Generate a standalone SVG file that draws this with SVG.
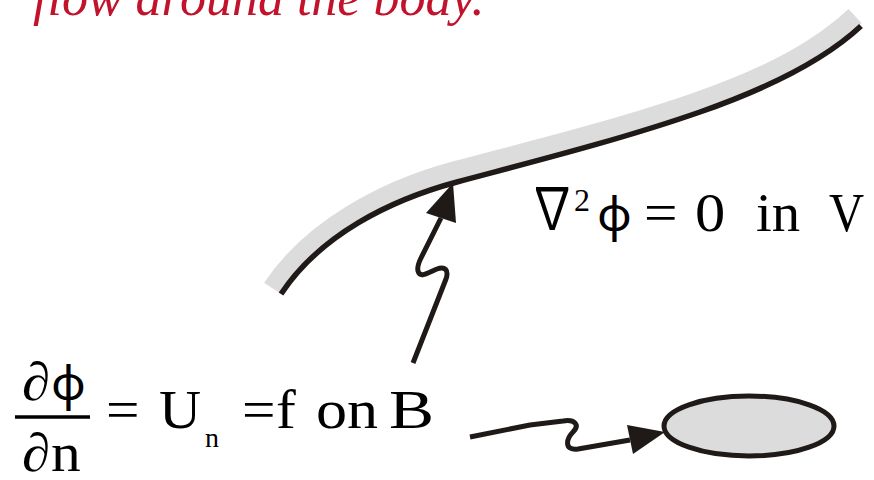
<svg xmlns="http://www.w3.org/2000/svg" width="874" height="480" viewBox="0 0 874 480">
<style>
.t{font-family:"Liberation Serif","DejaVu Serif",serif;fill:#000}
.s{font-family:"Noto Sans","DejaVu Serif",serif}
.m{font-family:"Noto Sans CJK JP","DejaVu Sans",sans-serif}
.red{font-family:"Liberation Serif","DejaVu Serif",serif;font-style:italic;fill:#c1132b}
.ln{fill:none;stroke:#1f1a17;stroke-width:5;stroke-linejoin:round}
.ah{fill:#1f1a17}
</style>
<rect width="874" height="480" fill="#fff"/>
<g id="title">
<text class="red" x="33" y="15" font-size="52">flow around the body.</text>
</g>
<g id="body-surface">
<path d="M272,288 C312,228 386,189.5 454,171 C521,153 616,130 696,102 C776,74 822,47 855,16" fill="none" stroke="#dcdcdc" stroke-width="19"/>
<path d="M281,294 C320,235 390,200 457,182 C524,164 620,140 700,112 C780,84 830,55 861,26" fill="none" stroke="#1f1a17" stroke-width="5.5"/>
</g>
<g id="laplace-label">
<text class="t m" font-size="58" transform="translate(529,229) scale(0.8,1)">∇</text>
<text class="t" style="font-size:32px" transform="translate(574,211)">2</text>
<text class="t s" font-size="48" transform="translate(597,231)">ϕ</text>
<text class="t" font-size="54" transform="translate(644,231) scale(1.1,1)">=</text>
<text class="t" font-size="54" transform="translate(695,231) scale(1.12,1)">0</text>
<text class="t" font-size="54" transform="translate(756,231) scale(1.05,1)">in</text>
<text class="t" font-size="54" transform="translate(829,231) scale(0.9,1)">V</text>
</g>
<g id="boundary-label">
<text class="t" font-size="54" transform="translate(22,400) scale(1.05,1)">∂</text>
<text class="t s" font-size="48" transform="translate(51,400)">ϕ</text>
<line x1="15" y1="417" x2="90" y2="417" stroke="#000" stroke-width="3.5"/>
<text class="t" font-size="54" transform="translate(22,471) scale(1.05,1)">∂</text>
<text class="t" font-size="54" transform="translate(51,471) scale(1.1,1)">n</text>
<text class="t" font-size="54" transform="translate(106,428) scale(1.1,1)">=</text>
<text class="t" font-size="54" transform="translate(159,428) scale(1.08,1)">U</text>
<text class="t" style="font-size:28px" transform="translate(205,447)">n</text>
<text class="t" font-size="54" transform="translate(242,428) scale(1.1,1)">=</text>
<text class="t" font-size="54" transform="translate(276,428) scale(1.1,1)">f</text>
<text class="t" font-size="54" transform="translate(316,428) scale(1.15,1)">o</text>
<text class="t" font-size="54" transform="translate(347,428) scale(1.15,1)">n</text>
<text class="t" font-size="54" transform="translate(389,428) scale(1.25,1)">B</text>
</g>
<g id="body-ellipse">
<ellipse cx="749" cy="426" rx="85" ry="30" fill="#dcdcdc" stroke="#1f1a17" stroke-width="5"/>
</g>
<g id="connectors">
<path class="ln" d="M413,363 L446,279 C449,270 445,266 437,269 C429,272 420,279 418,271 C417,267 419,262 421,258 L441,218"/>
<polygon class="ah" points="453,183 426,213 456,223"/>
<path class="ln" d="M470,437 L530,425 L563,421 C575,419 580,425 573,432 C566,439 564,451 578,449 L630,440"/>
<polygon class="ah" points="665,432 627,425 633,454"/>
</g>
</svg>
